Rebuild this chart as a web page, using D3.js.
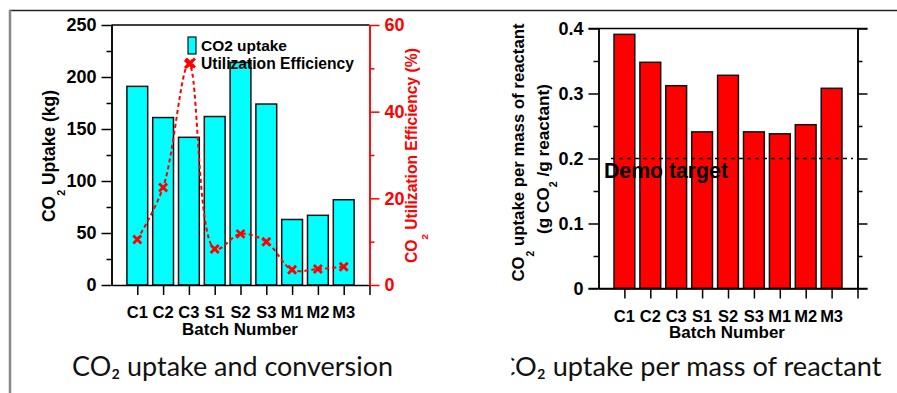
<!DOCTYPE html>
<html><head><meta charset="utf-8">
<script src="https://cdn.jsdelivr.net/npm/d3@7"></script>
<style>
body{margin:0;background:#fff;}
svg{display:block;}
text{font-family:"Liberation Sans",Arial,sans-serif;font-weight:bold;}
.cap{font-family:Lato,"Open Sans",sans-serif;font-weight:normal;}
</style></head>
<body><svg id="c" width="897" height="393"></svg>
<script>
const batches = ["C1","C2","C3","S1","S2","S3","M1","M2","M3"];
const co2Uptake = [191, 161, 142, 162, 214, 174, 63, 67, 82];          // kg
const utilEff = [10.5, 22.5, 51, 8.3, 11.8, 10, 3.5, 3.7, 4.2];        // %
const perMass = [0.391, 0.348, 0.312, 0.241, 0.328, 0.241, 0.238, 0.252, 0.308];
const leftTicks = [0, 50, 100, 150, 200, 250];
const leftMinor = [25, 75, 125, 175, 225];
const effTicks = [0, 20, 40, 60];
const effMinor = [10, 30, 50];
const massTicks = [0, 0.1, 0.2, 0.3, 0.4];
const massMinor = [0.05, 0.15, 0.25, 0.35];
const demoTarget = 0.2;

const svg = d3.select("#c");

function fit(sel, target){
  const n = sel.node();
  const fs = parseFloat(sel.attr("font-size"));
  const w = n.getComputedTextLength();
  sel.attr("font-size", (fs*target/w).toFixed(2));
  return sel;
}

// outer frame
svg.append("line").attr("x1",9).attr("x2",897).attr("y1",10.5).attr("y2",10.5).attr("stroke","#222").attr("stroke-width",1.5);
svg.append("line").attr("x1",10).attr("x2",10).attr("y1",10).attr("y2",393).attr("stroke","#888").attr("stroke-width",2.5);

function styleAxis(g, color){
  g.selectAll("path.domain").attr("stroke",color).attr("stroke-width",1.5);
  g.selectAll(".tick line").attr("stroke",color).attr("stroke-width",1.5);
  g.selectAll(".tick text").attr("fill",color).attr("font-size",18).attr("font-weight","bold")
   .attr("font-family","Liberation Sans, Arial, sans-serif");
}

// ============ LEFT CHART ============
const L = {x0:111.5, x1:369.5, top:25, bot:285};
const xL = d3.scaleLinear().domain([0,10]).range([L.x0,L.x1]);
const yL = d3.scaleLinear().domain([0,250]).range([L.bot,L.top]);
const yE = d3.scaleLinear().domain([0,60]).range([L.bot,L.top]);
const bw = 20.8;

const gL = svg.append("g");
gL.selectAll("rect.bar").data(co2Uptake).join("rect")
  .attr("x",(d,i)=>xL(i+1)-bw/2).attr("width",bw)
  .attr("y",d=>yL(d)).attr("height",d=>yL(0)-yL(d))
  .attr("fill","#00FFFF").attr("stroke","#111").attr("stroke-width",1.5);

gL.append("line").attr("x1",L.x0).attr("x2",L.x1).attr("y1",L.top).attr("y2",L.top).attr("stroke","#000").attr("stroke-width",1.5);
let a;
a = gL.append("g").attr("transform",`translate(${L.x0},0)`).call(d3.axisLeft(yL).tickValues(leftTicks).tickSize(10).tickSizeOuter(0).tickPadding(5)); styleAxis(a,"#000");
a = gL.append("g").attr("transform",`translate(${L.x0},0)`).call(d3.axisLeft(yL).tickValues(leftMinor).tickSize(5).tickFormat("").tickSizeOuter(0)); styleAxis(a,"#000");
a = gL.append("g").attr("transform",`translate(0,${L.bot})`).call(d3.axisBottom(xL).tickValues(d3.range(1,11)).tickSize(10).tickFormat("").tickSizeOuter(0)); styleAxis(a,"#000");
a = gL.append("g").attr("transform",`translate(${L.x1},0)`).call(d3.axisRight(yE).tickValues(effTicks).tickSize(10).tickSizeOuter(0).tickPadding(5)); styleAxis(a,"#FF0000");
a = gL.append("g").attr("transform",`translate(${L.x1},0)`).call(d3.axisRight(yE).tickValues(effMinor).tickSize(5).tickFormat("").tickSizeOuter(0)); styleAxis(a,"#FF0000");

gL.selectAll("text.xl").data(batches).join("text").attr("class","xl")
  .attr("x",(d,i)=>xL(i+1)).attr("y",318).attr("text-anchor","middle").attr("font-size",16.5).text(d=>d);
fit(gL.append("text").attr("x",240).attr("y",335).attr("text-anchor","middle").attr("font-size",17).text("Batch Number"),116);

const line = d3.line().x((d,i)=>xL(i+1)).y(d=>yE(d)).curve(d3.curveCatmullRom.alpha(0.5));
gL.append("path").attr("d",line(utilEff)).attr("fill","none").attr("stroke","#FF0000")
  .attr("stroke-width",2).attr("stroke-dasharray","4,3");
function cross(g,x,y,s){
  g.append("path").attr("d",`M${x-s},${y-s}L${x+s},${y+s}M${x-s},${y+s}L${x+s},${y-s}`)
   .attr("stroke","#FF0000").attr("stroke-width",2.8).attr("fill","none");
}
utilEff.forEach((d,i)=>cross(gL,xL(i+1),yE(d),4));

gL.append("rect").attr("x",188).attr("y",37).attr("width",8).attr("height",17).attr("fill","#00FFFF").attr("stroke","#111").attr("stroke-width",1.2);
fit(gL.append("text").attr("x",201).attr("y",51).attr("font-size",16).text("CO2 uptake"),86);
cross(gL,190.5,63,4.5);
fit(gL.append("text").attr("x",201).attr("y",69).attr("font-size",16).text("Utilization Efficiency"),153);

function subLabel(g, x, y, parts, color, size, target){
  const t = g.append("text").attr("transform",`translate(${x},${y}) rotate(-90)`)
    .attr("text-anchor","middle").attr("font-size",size).attr("fill",color);
  parts.forEach(p=>{
    if(p.sub){ t.append("tspan").attr("font-size","0.62em").attr("dy",p.dy).text(p.t); }
    else { t.append("tspan").attr("dy",p.dy||0).text(p.t); }
  });
  if(target) fit(t,target);
  return t;
}
subLabel(gL, 55, 156, [{t:"CO"},{t:"2",sub:true,dy:10},{t:" Uptake (kg)",dy:-10}], "#000", 16, 132);
subLabel(gL, 417, 155.5, [{t:"CO"},{t:"2",sub:true,dy:11},{t:" Utilization Efficiency (%)",dy:-11}], "#FF0000", 16, 215);

fit(svg.append("text").attr("class","cap").attr("x",232.5).attr("y",376).attr("text-anchor","middle")
  .attr("font-size",26).attr("fill","#111").text("CO₂ uptake and conversion"),321);

// ============ RIGHT CHART ============
const R = {x0:598.5, x1:857.5, top:28.5, bot:288.5};
const xR = d3.scaleLinear().domain([0,10]).range([R.x0,R.x1]);
const yR = d3.scaleLinear().domain([0,0.4]).range([R.bot,R.top]);
const gR = svg.append("g");

gR.selectAll("rect.bar").data(perMass).join("rect")
  .attr("x",(d,i)=>xR(i+1)-bw/2).attr("width",bw)
  .attr("y",d=>yR(d)).attr("height",d=>yR(0)-yR(d))
  .attr("fill","#FF0000").attr("stroke","#111").attr("stroke-width",1.5);

gR.append("line").attr("x1",R.x0-10).attr("x2",R.x1+10).attr("y1",R.top).attr("y2",R.top).attr("stroke","#000").attr("stroke-width",1.5);
a = gR.append("g").attr("transform",`translate(${R.x0},0)`).call(d3.axisLeft(yR).tickValues(massTicks).tickSize(10).tickSizeOuter(0).tickPadding(5).tickFormat(d=>d===0?"0":d3.format(".1f")(d))); styleAxis(a,"#000");
a = gR.append("g").attr("transform",`translate(${R.x0},0)`).call(d3.axisLeft(yR).tickValues(massMinor).tickSize(5).tickFormat("").tickSizeOuter(0)); styleAxis(a,"#000");
a = gR.append("g").attr("transform",`translate(${R.x1},0)`).call(d3.axisRight(yR).tickValues(massTicks).tickSize(10).tickFormat("").tickSizeOuter(0)); styleAxis(a,"#000");
a = gR.append("g").attr("transform",`translate(${R.x1},0)`).call(d3.axisRight(yR).tickValues(massMinor).tickSize(5).tickFormat("").tickSizeOuter(0)); styleAxis(a,"#000");
a = gR.append("g").attr("transform",`translate(0,${R.bot})`).call(d3.axisBottom(xR).tickValues(d3.range(1,11)).tickSize(10).tickFormat("").tickSizeOuter(0)); styleAxis(a,"#000");
gR.append("line").attr("x1",R.x0-10).attr("x2",R.x1+10).attr("y1",R.bot).attr("y2",R.bot).attr("stroke","#000").attr("stroke-width",1.5);

gR.append("line").attr("x1",611).attr("x2",853).attr("y1",yR(demoTarget)).attr("y2",yR(demoTarget))
  .attr("stroke","#000").attr("stroke-width",1.5).attr("stroke-dasharray","4,4");
fit(gR.append("text").attr("x",604).attr("y",178).attr("font-size",20).text("Demo target"),124);

gR.selectAll("text.xl").data(batches).join("text").attr("class","xl")
  .attr("x",(d,i)=>xR(i+1)).attr("y",321.5).attr("text-anchor","middle").attr("font-size",16.5).text(d=>d);
fit(gR.append("text").attr("x",727).attr("y",338).attr("text-anchor","middle").attr("font-size",17).text("Batch Number"),116);

subLabel(gR, 524, 152.5, [{t:"CO"},{t:"2",sub:true,dy:10},{t:" uptake per mass of reactant",dy:-10}], "#000", 16, 258);
subLabel(gR, 549, 159, [{t:"(g CO"},{t:"2",sub:true,dy:8},{t:" /g reactant)",dy:-8}], "#000", 16, 150);

// caption 2: clipped at left so only the tail of the "C" shows
svg.append("clipPath").attr("id","capclip").append("rect").attr("x",511.5).attr("y",340).attr("width",400).attr("height",60);
const c1fs = parseFloat(svg.select("text.cap").attr("font-size"));
const cap2 = svg.append("text").attr("class","cap").attr("x",881.5).attr("y",376).attr("text-anchor","end")
  .attr("font-size",c1fs).attr("fill","#111").attr("clip-path","url(#capclip)").text("CO₂ uptake per mass of reactant");
{
  const n = cap2.node();
  const total = n.getComputedTextLength();
  const cW = n.getSubStringLength(0,1);
  // want text from the "O" onward to span 515 -> 881.5
  const rest = total - cW;
  const scale = (881.5 - 515) / rest;
  cap2.attr("font-size", (c1fs*scale).toFixed(2));
}
</script></body></html>
